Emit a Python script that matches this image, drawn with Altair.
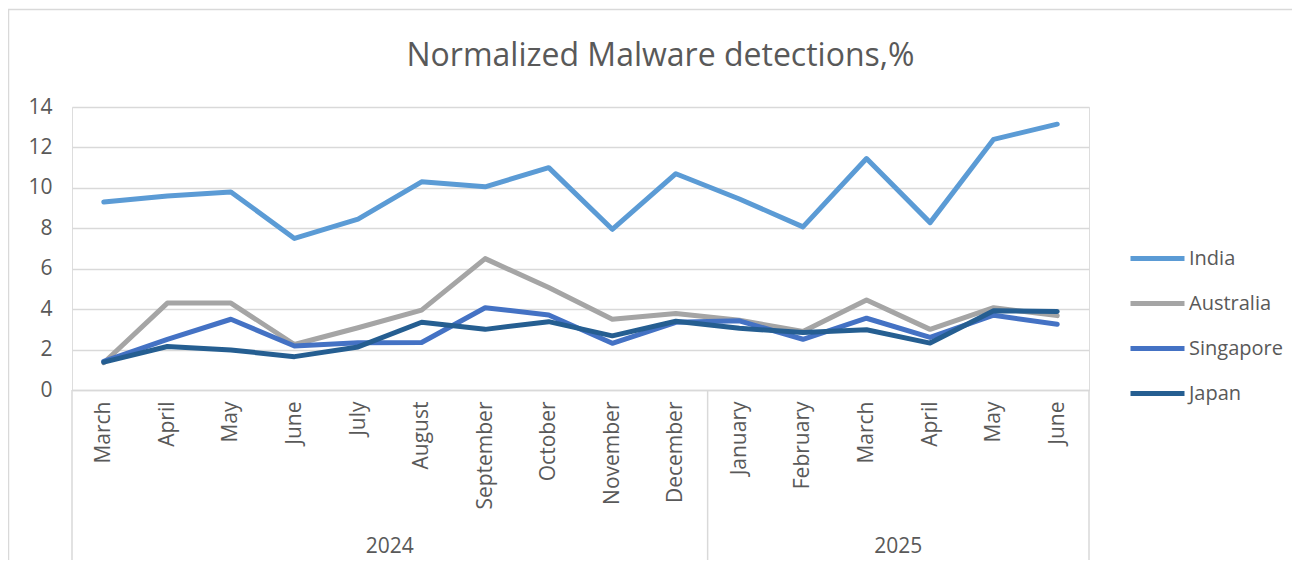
import altair as alt
import pandas as pd

MONTHS = ["March", "April", "May", "June", "July", "August", "September", "October",
          "November", "December", "January", "February", "March", "April", "May", "June"]
YEARS = ["2024"] * 10 + ["2025"] * 6
SERIES = ["India", "Australia", "Singapore", "Japan"]
INDIA = [9.3, 9.6, 9.8, 7.5, 8.45, 10.3, 10.05, 11.0, 7.95, 10.7, 9.45, 8.07, 11.45, 8.28, 12.4, 13.15]
AUSTRALIA = [1.35, 4.3, 4.3, 2.25, 3.08, 3.95, 6.5, 5.07, 3.5, 3.78, 3.45, 2.89, 4.45, 3.0, 4.07, 3.68]
SINGAPORE = [1.42, 2.5, 3.5, 2.18, 2.34, 2.35, 4.07, 3.71, 2.31, 3.35, 3.42, 2.51, 3.55, 2.6, 3.7, 3.25]
JAPAN = [1.38, 2.15, 1.98, 1.65, 2.13, 3.35, 3.0, 3.38, 2.68, 3.4, 3.05, 2.85, 2.98, 2.32, 3.92, 3.88]
COLORS = ["#5B9BD5", "#A5A5A5", "#4472C4", "#255E91"]
Y_TICKS = [0, 2, 4, 6, 8, 10, 12, 14]

FONT = "Open Sans"
TXT = "#595959"
GRID = "#D9D9D9"
W, H = 1017, 283

rows = []
for name, vals in zip(SERIES, [INDIA, AUSTRALIA, SINGAPORE, JAPAN]):
    for i, v in enumerate(vals):
        rows.append({"idx": i, "month": MONTHS[i], "year": YEARS[i], "series": name, "value": v})
df = pd.DataFrame(rows)

years_unique = sorted(set(YEARS), key=YEARS.index)
bounds = [{"b": -0.5}]
centers = []
for y in years_unique:
    ids = [i for i, yy in enumerate(YEARS) if yy == y]
    bounds.append({"b": ids[-1] + 0.5})
    centers.append({"year": y, "c": (ids[0] + ids[-1]) / 2})
bounds_df = pd.DataFrame(bounds)
centers_df = pd.DataFrame(centers)

xscale = alt.Scale(domain=[-0.5, len(MONTHS) - 0.5], nice=False, zero=False)
label_expr = "[" + ",".join(f"'{m}'" for m in MONTHS) + "][datum.value]"
XAXIS = alt.Axis(values=list(range(len(MONTHS))), labelExpr=label_expr, title=None,
                 grid=False, ticks=False, domain=True, domainColor=GRID, domainWidth=1.5,
                 labelAngle=270, labelAlign="right", labelBaseline="middle",
                 labelPadding=11, labelFontSize=21, labelColor=TXT, labelFont=FONT,
                 labelOverlap=False)
YAXIS = alt.Axis(values=Y_TICKS, title=None, grid=True, gridColor=GRID, gridWidth=1.5,
                 domain=False, ticks=False, labelPadding=20, labelFontSize=21,
                 labelColor=TXT, labelFont=FONT)
yscale = alt.Scale(domain=[0, 14], nice=False)

lines = alt.Chart(df).mark_line(strokeWidth=5, strokeCap="round", strokeJoin="round").encode(
    x=alt.X("idx:Q", scale=xscale, axis=XAXIS),
    y=alt.Y("value:Q", scale=yscale, axis=YAXIS),
    color=alt.Color("series:N", scale=alt.Scale(domain=SERIES, range=COLORS),
                    legend=alt.Legend(orient="none", legendX=1056, legendY=122, title=None,
                                      symbolType="stroke", symbolSize=2916, symbolStrokeWidth=5,
                                      labelFontSize=20, labelColor=TXT, labelFont=FONT,
                                      labelOffset=2, rowPadding=5, padding=0)),
    order=alt.Order("idx:Q"),
)

seps = alt.Chart(bounds_df).mark_rule(color=GRID, strokeWidth=1.5).encode(
    x=alt.X("b:Q", scale=xscale, axis=XAXIS),
    y=alt.value(H),
    y2=alt.value(H + 171),
)

year_text = alt.Chart(centers_df).mark_text(font=FONT, fontSize=21, color=TXT, baseline="middle").encode(
    x=alt.X("c:Q", scale=xscale, axis=XAXIS),
    y=alt.value(H + 157),
    text="year:N",
)

frame = alt.Chart(pd.DataFrame([{"k": 1}])).mark_rect(filled=False, stroke=GRID, strokeWidth=1.5).encode(
    x=alt.value(-63.5), y=alt.value(-97.5), x2=alt.value(W + 400), y2=alt.value(H + 400),
)

chart = alt.layer(lines, seps, year_text, frame).properties(
    width=W, height=H,
    title=alt.Title("Normalized Malware detections,%", font=FONT, fontSize=32, fontWeight="normal",
                    color=TXT, anchor="middle", dx=80, offset=0, dy=89, baseline="alphabetic"),
    autosize=alt.AutoSizeParams(type="none"),
    padding={"left": 64, "top": 99, "right": 203, "bottom": 170},
).configure_view(stroke=None).configure(background="white")

chart.save("out.html", embed_options={"renderer": "svg", "actions": False})
